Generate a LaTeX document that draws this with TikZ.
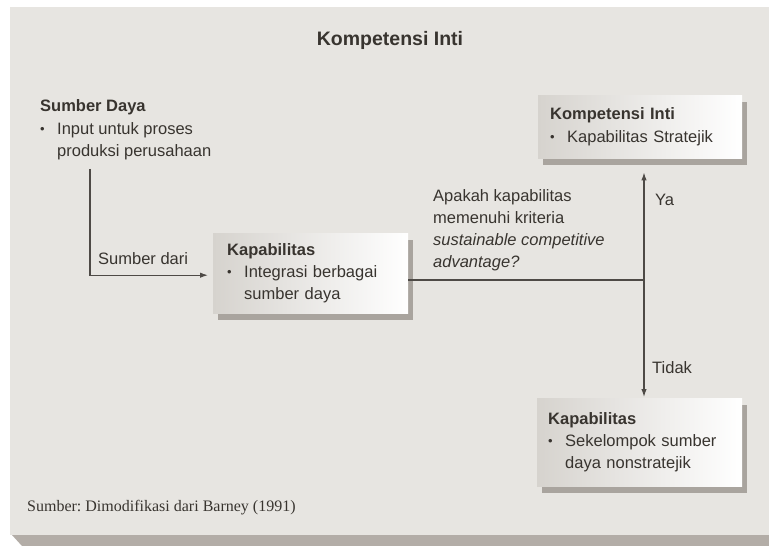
\documentclass[tikz,border=0pt]{standalone}
\usepackage{fontspec}
\setmainfont{Liberation Sans}
\newfontfamily\srf{Liberation Serif}
\usetikzlibrary{arrows.meta,shadows}
\frenchspacing
\definecolor{panel}{HTML}{E7E5E1}
\definecolor{panelshadow}{HTML}{B3ADA7}
\definecolor{boxl}{HTML}{D6D3CE}
\definecolor{shadowc}{HTML}{A9A49E}
\definecolor{ink}{HTML}{38342F}
\definecolor{linec}{HTML}{4E4A46}
\newcommand{\bul}{\makebox[17pt][l]{\fontsize{13}{13}\selectfont\raisebox{1pt}{•}}}
\newcommand{\ind}{\hspace*{17pt}}
\tikzset{
  txt/.style={text=ink, font=\fontsize{16.5}{21.5}\selectfont, inner sep=0pt},
  boxn/.style={txt, anchor=north west, align=left, inner xsep=12pt, inner ysep=0pt,
    left color=boxl, right color=white,
    general shadow={fill=shadowc, shadow xshift=5pt, shadow yshift=-7pt}},
  conn/.style={draw=linec, line width=1.2pt},
  arr/.style={conn, -{Latex[length=8pt,width=5.5pt]}}
}
\begin{document}
\begin{tikzpicture}[x=1pt,y=-1pt]
\useasboundingbox (0,0) rectangle (769,546);
% panel
\fill[white] (0,0) rectangle (769,546);
\fill[panelshadow] (12,535) -- (769,535) -- (769,546) -- (22,546) -- cycle;
\fill[panel] (10,7) rectangle (769,535);
% title
\node[txt, font=\bfseries\fontsize{19.5}{22}\selectfont] (title) at (390,40) {Kompetensi Inti};
% source
\node[txt, anchor=north west, align=left] (sd) at (40,99)
  {\textbf{Sumber Daya}\\[2pt]\bul Input untuk proses\\\ind produksi perusahaan};
% boxes
\node[boxn, minimum width=204pt, minimum height=63pt, text width=180pt] (ki) at (538,95)
  {\textbf{Kompetensi Inti}\\[1pt]\bul Kapabilitas Stratejik};
\node[boxn, inner xsep=14pt, minimum width=195pt, minimum height=80pt, text width=167pt] (kap) at (213,233)
  {\textbf{Kapabilitas}\\[1pt]\bul Integrasi berbagai\\\ind sumber daya};
\node[boxn, inner xsep=11pt, minimum width=205pt, minimum height=88pt, text width=183pt] (kn) at (537,398)
  {\textbf{Kapabilitas}\\[1pt]\bul Sekelompok sumber\\\ind daya nonstratejik};
% question
\node[txt, anchor=north west, align=left, font=\fontsize{16.5}{22.2}\selectfont] (q) at (433,189)
  {Apakah kapabilitas\\memenuhi kriteria\\\textit{sustainable competitive}\\\textit{advantage?}};
% labels
\node[txt, anchor=west] (sdari) at (98,259) {Sumber dari};
\node[txt, anchor=west] (ya) at (655,200) {Ya};
\node[txt, anchor=west] (tidak) at (652,368) {Tidak};
% connectors
\coordinate (j) at (644,280);
\draw[arr, shorten >=5pt] ([xshift=50pt,yshift=-9pt]sd.south west) |- ([yshift=-2pt]kap.west);
\draw[conn] (kap.east |- j) -- (j);
\draw[arr, shorten >=14pt] (j) -- (ki.south -| j);
\draw[arr, shorten >=1pt] (j) -- (kn.north -| j);
% footnote
\node[txt, anchor=west, font=\srf\fontsize{16}{19}\selectfont] (src) at (27,508) {Sumber: Dimodifikasi dari Barney (1991)};
\end{tikzpicture}
\end{document}
